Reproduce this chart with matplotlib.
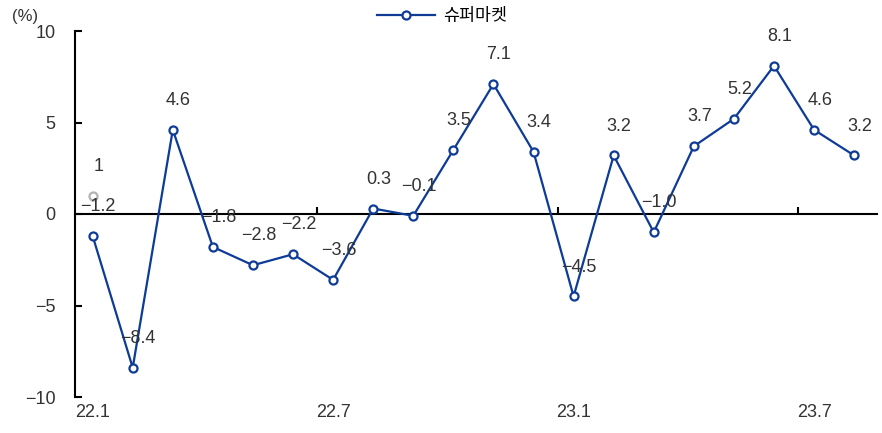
import matplotlib.pyplot as plt
import numpy as np

plt.rcParams['font.family'] = ['Liberation Sans', 'Noto Sans CJK KR', 'DejaVu Sans']
plt.rcParams['axes.unicode_minus'] = True

# 월별 증감률 (%)
months = ['22.1', '22.2', '22.3', '22.4', '22.5', '22.6', '22.7', '22.8', '22.9', '22.10',
          '22.11', '22.12', '23.1', '23.2', '23.3', '23.4', '23.5', '23.6', '23.7', '23.8']
values = [-1.2, -8.4, 4.6, -1.8, -2.8, -2.2, -3.6, 0.3, -0.1, 3.5,
          7.1, 3.4, -4.5, 3.2, -1.0, 3.7, 5.2, 8.1, 4.6, 3.2]
extra_x = 0
extra_value = 1
label_months = ['22.1', '22.7', '23.1', '23.7']
yticks = [-10, -5, 0, 5, 10]

blue = '#0d3b96'
txt = '#333333'
x = np.arange(len(months))

fig = plt.figure(figsize=(8.82, 4.33), dpi=100)
ax = fig.add_axes([75 / 882, 36 / 433, 802 / 882, 366 / 433])

ax.plot(x, values, color=blue, lw=1.6, marker='o', ms=5.8,
        mfc='white', mec=blue, mew=1.6, label='슈퍼마켓', zorder=3)
ax.plot([extra_x], [extra_value], marker='o', ms=5.8, mfc='white',
        mec='#b4b4b4', mew=1.6, ls='none', zorder=3)

fmt = lambda v: f'{v:.1f}'.replace('-', '\u2212')
for xi, v in zip(x, values):
    ax.annotate(fmt(v), (xi, v), xytext=(4, 15), textcoords='offset points',
                ha='center', va='bottom', fontsize=13, color=txt)
ax.annotate(str(extra_value), (extra_x, extra_value), xytext=(4, 15),
            textcoords='offset points', ha='center', va='bottom',
            fontsize=13, color=txt)

ax.set_xlim(-0.44, len(months) - 0.43)
ax.set_ylim(-10, 10)
ax.set_yticks(yticks)
ax.set_yticklabels([str(t).replace('-', '\u2212') for t in yticks])
ax.tick_params(axis='y', direction='in', length=5, width=1.5, labelsize=13,
               pad=14, colors='black', labelcolor=txt)

# 가로축은 0 위치에, 6개월 단위 경계 눈금
ax.spines['top'].set_visible(False)
ax.spines['right'].set_visible(False)
ax.spines['left'].set_linewidth(1.5)
ax.spines['bottom'].set_position(('data', 0))
ax.spines['bottom'].set_linewidth(1.5)
ax.set_xticks(np.arange(5.6, len(months), 6))
ax.set_xticklabels([])
ax.tick_params(axis='x', direction='in', length=5, width=1.5)

sec = ax.secondary_xaxis('bottom')
sec.set_xticks([months.index(m) for m in label_months])
sec.set_xticklabels(label_months)
sec.spines['bottom'].set_visible(False)
sec.tick_params(length=0, labelsize=13, pad=5, labelcolor=txt)

fig.text(12 / 882, 1 - 16 / 433, '(%)', fontsize=12, va='center', color=txt)
ax.legend(loc='lower center', bbox_to_anchor=(0.458, 1.0), frameon=False,
          fontsize=12.5, handlelength=3.3, handletextpad=0.5, borderaxespad=0.0)

fig.savefig('out.png', dpi=100)
